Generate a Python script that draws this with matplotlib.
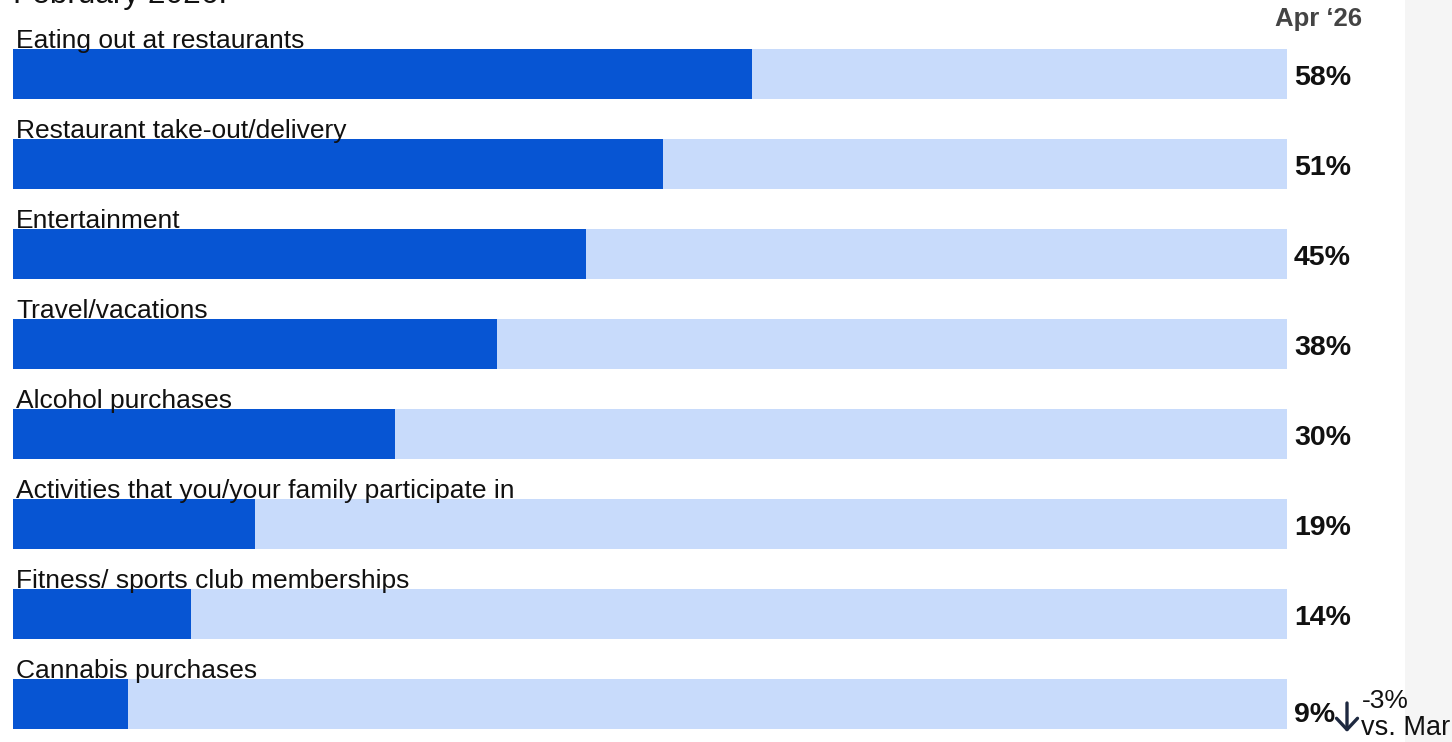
import matplotlib.pyplot as plt
from matplotlib.patches import Rectangle

plt.rcParams['font.family'] = ['Liberation Sans', 'DejaVu Sans']

categories = [
    'Eating out at restaurants',
    'Restaurant take-out/delivery',
    'Entertainment',
    'Travel/vacations',
    'Alcohol purchases',
    'Activities that you/your family participate in',
    'Fitness/ sports club memberships',
    'Cannabis purchases',
]
values = [58, 51, 45, 38, 30, 19, 14, 9]
period_label = 'Apr \u201826'
change_text = '-3%'
change_ref = 'vs. Mar'
change_row = 7

dark_blue = '#0755d3'
light_blue = '#c8dbfb'

W, H, DPI = 1452, 742, 100
fig = plt.figure(figsize=(W / DPI, H / DPI), dpi=DPI)

# grey strip on the right edge, behind everything
fig.patches.append(Rectangle((1405 / W, 0), 1 - 1405 / W, 1, transform=fig.transFigure,
                             facecolor='#f5f5f5', edgecolor='none', zorder=-1))

# axes fills the whole figure; scale so that 0..100 runs from px 13 to px 1287
ax = fig.add_axes([0, 0, 1, 1])
ax.patch.set_alpha(0)
px = 1274 / 100.0
ax.set_xlim(-13 / px, (W - 13) / px)
pitch = 90.0
ax.set_ylim((H - 74) / pitch, -74 / pitch)
ax.axis('off')

ypos = list(range(len(categories)))
bar_h = 50 / pitch
ax.barh(ypos, [100] * len(values), height=bar_h, color=light_blue, zorder=1)
ax.barh(ypos, values, height=bar_h, color=dark_blue, zorder=2)

for y, cat, v in zip(ypos, categories, values):
    ax.text(3 / px, y - bar_h / 2 - 1 / pitch, cat, fontsize=19, va='baseline',
            ha='left', color='#111111', zorder=3)
    # the last label sits a little lower, next to the change note
    dy = 11 if y == change_row else 4
    ax.text(100 + 7 / px, y + dy / pitch, f'{v}%', fontsize=20.5, fontweight='bold',
            va='center', ha='left', color='#111111', zorder=3)

# column header
ax.text(100 + 31 / px, -55 / pitch, period_label, fontsize=18.5, fontweight='bold',
        color='#444444', va='center', ha='center')

# change note on the last row: down arrow plus text
arrow_x = 100 + 60 / px
ax.annotate('', xy=(arrow_x, change_row + 28 / pitch), xytext=(arrow_x, change_row - 1 / pitch),
            arrowprops=dict(arrowstyle='->,head_length=0.45,head_width=0.42',
                            color='#1e2940', lw=2.4, mutation_scale=18,
                            shrinkA=0, shrinkB=0))
ax.text(100 + 75 / px, change_row + 4 / pitch, change_text, fontsize=19,
        color='#111111', va='baseline', ha='left')
ax.text(100 + 74 / px, change_row + 31 / pitch, change_ref, fontsize=19.5,
        color='#111111', va='baseline', ha='left')

# subtitle line cut off at the top
fig.text(13 / W, 1 - 3 / H, 'February 2026.', fontsize=22.7, va='baseline', ha='left',
         color='#111111')

fig.savefig('out.png', dpi=DPI)
